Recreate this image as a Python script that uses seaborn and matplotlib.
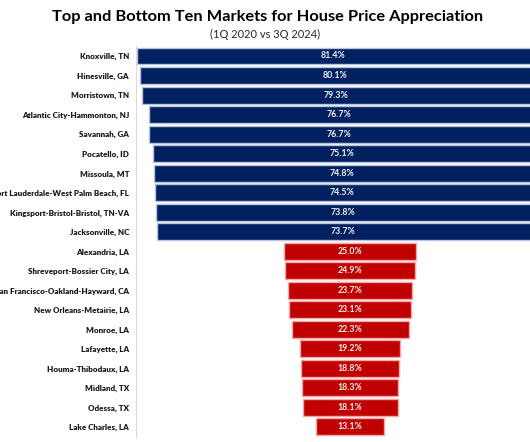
import numpy as np
import pandas as pd
import matplotlib
matplotlib.use("Agg")
import matplotlib.pyplot as plt
import seaborn as sns

# data
markets = ["Knoxville, TN", "Hinesville, GA", "Morristown, TN", "Atlantic City-Hammonton, NJ",
           "Savannah, GA", "Pocatello, ID", "Missoula, MT", "Fort Lauderdale-West Palm Beach, FL",
           "Kingsport-Bristol-Bristol, TN-VA", "Jacksonville, NC",
           "Alexandria, LA", "Shreveport-Bossier City, LA", "San Francisco-Oakland-Hayward, CA",
           "New Orleans-Metairie, LA", "Monroe, LA", "Lafayette, LA", "Houma-Thibodaux, LA",
           "Midland, TX", "Odessa, TX", "Lake Charles, LA"]
appreciation = [81.4, 80.1, 79.3, 76.7, 76.7, 75.1, 74.8, 74.5, 73.8, 73.7,
                25.0, 24.9, 23.7, 23.1, 22.3, 19.2, 18.8, 18.3, 18.1, 13.1]
group = ["Top"] * 10 + ["Bottom"] * 10

df = pd.DataFrame({"Market": markets, "Appreciation": appreciation, "Group": group})

sns.set_style("white")
plt.rcParams["font.family"] = ["Lato", "DejaVu Sans"]

fig = plt.figure(figsize=(5.3, 4.42), dpi=100)
ax = fig.add_axes([0.2566, 0.0119, 0.7434, 0.8835])

sns.barplot(data=df, x="Appreciation", y="Market", hue="Group",
            palette={"Top": "#002060", "Bottom": "#C00000"}, saturation=1,
            dodge=False, legend=False, width=0.87, ax=ax)

# center every bar so the chart reads as a funnel
for p in ax.patches:
    p.set_x(-p.get_width() / 2)
    if p.get_facecolor()[0] > 0.5:
        p.set_edgecolor("#F4A6A6")
    else:
        p.set_edgecolor("#B8C4DC")
    p.set_linewidth(1.0)

for c in ax.containers:
    ax.bar_label(c, fmt="{:.1f}%", label_type="center", color="#F2F2F2",
                 fontsize=6.3, fontweight="bold")

ax.set_xlim(-40.8, 34.3)
ax.set_xlabel("")
ax.set_ylabel("")
ax.set_xticks([])
ax.tick_params(axis="y", length=0, pad=5, labelcolor="#1A1A1A")
for lbl in ax.get_yticklabels():
    lbl.set_fontweight("heavy")
    lbl.set_fontsize(5.8)

for s in ["top", "right", "bottom"]:
    ax.spines[s].set_visible(False)
ax.spines["left"].set_color("#D9D9D9")
ax.spines["left"].set_linewidth(0.8)

fig.text(0.505, 0.962, "Top and Bottom Ten Markets for House Price Appreciation",
         ha="center", va="center", fontsize=11.8, fontweight="bold", color="black")
fig.text(0.5, 0.923, "(1Q 2020 vs 3Q 2024)", ha="center", va="center",
         fontsize=8, color="#262626")

fig.savefig("out.png", dpi=100)
